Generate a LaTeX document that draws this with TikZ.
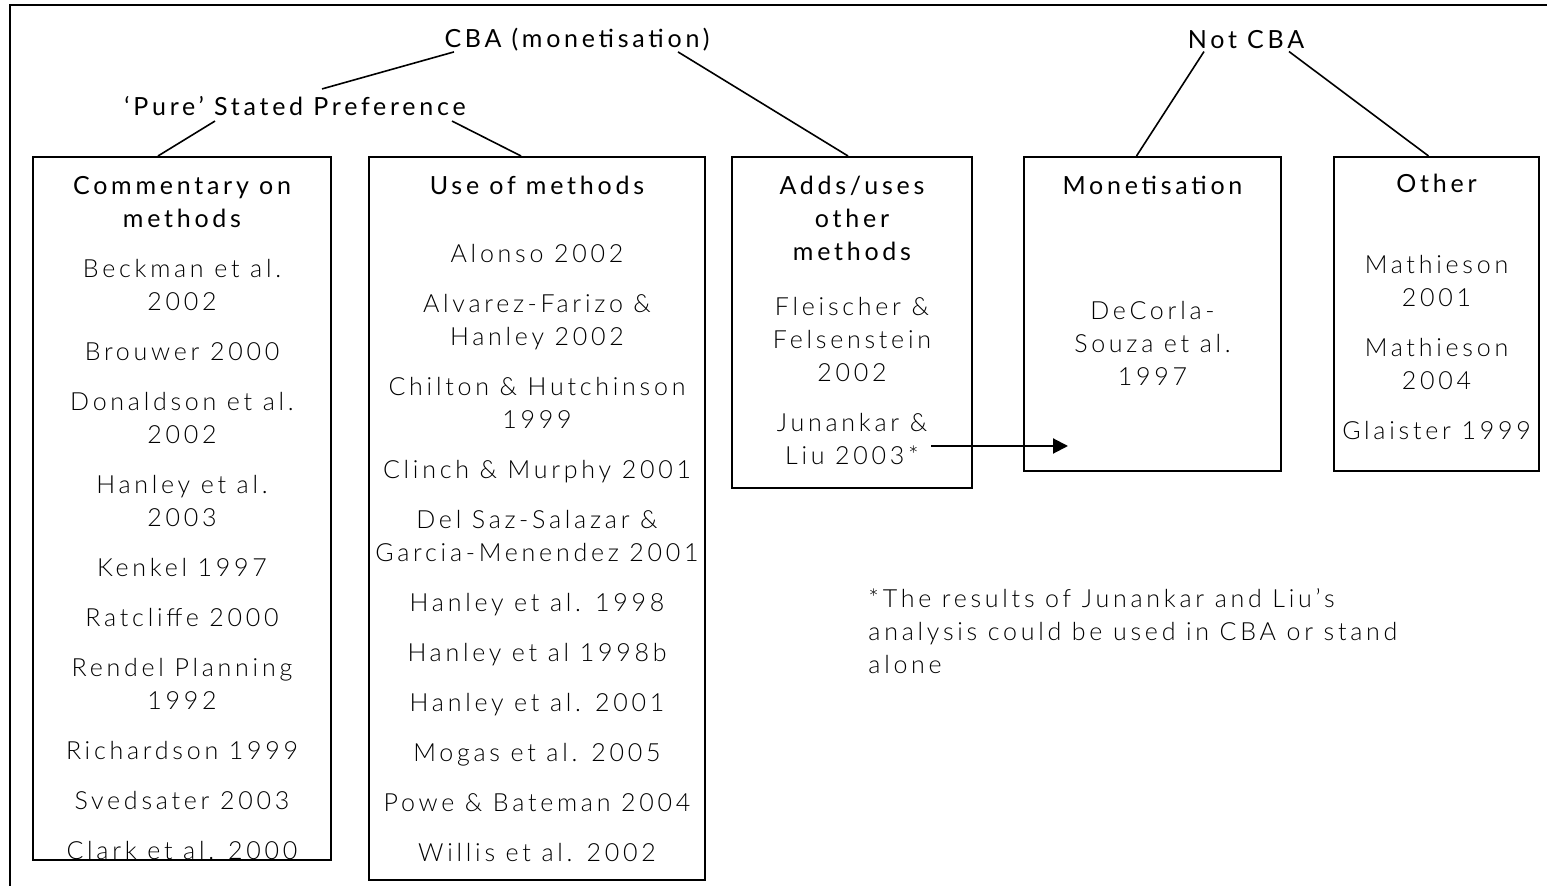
\documentclass[tikz,border=0pt]{standalone}
\usepackage{fontspec}
\setmainfont{Lato}[LetterSpace=15]
\newfontfamily\litefont{Lato Light}[LetterSpace=15]
\newfontfamily\hdfont{Lato}[LetterSpace=15]
\usetikzlibrary{arrows.meta,calc}

\tikzset{
  box/.style={draw, line width=1pt, inner sep=0pt},
  refs/.style={align=center, inner sep=0pt, font=\litefont\fontsize{12.5}{16.5}\selectfont},
  toplbl/.style={inner xsep=0pt, inner ysep=2.5pt, font=\hdfont\fontsize{12.5}{16.5}\selectfont},
  note/.style={align=left, inner sep=0pt, anchor=north west, font=\litefont\fontsize{12.5}{16.5}\selectfont},
  link/.style={line width=0.8pt},
  arr/.style={line width=1pt, -{Triangle[length=7.5pt,width=7.5pt]}}
}

\begin{document}
\begin{tikzpicture}[x=0.5pt, y=-0.5pt]
  \useasboundingbox (0,0) rectangle (1547,886);
  % frame
  \draw[line width=1pt] (10,886) -- (10,5) -- (1547,5);

  % top labels
  \node[toplbl] (cba) at (577,40) {CBA (monetisation)};
  \node[toplbl] (pure) at (295,106) {‘Pure’ Stated Preference};
  \node[toplbl] (notcba) at (1246,40) {Not CBA};

  % boxes
  \node[box, minimum width=149pt, minimum height=351.5pt] (comm) at (182,508.5) {};
  \node[box, minimum width=168pt, minimum height=361.5pt] (use) at (537,518.5) {};
  \node[box, minimum width=120pt, minimum height=165.5pt] (adds) at (852,322.5) {};
  \node[box, minimum width=128.5pt, minimum height=157pt] (mon) at (1152.5,314) {};
  \node[box, minimum width=102.5pt, minimum height=157pt] (oth) at (1436.5,314) {};

  % box contents
  \node[refs, anchor=north] (commtxt) at (182,176) {\hdfont Commentary on\\ \hdfont methods\\[8.5pt]
    Beckman et al.\\ 2002\\[8.5pt] Brouwer 2000\\[8.5pt] Donaldson et al.\\ 2002\\[8.5pt]
    Hanley et al.\\ 2003\\[8.5pt] Kenkel 1997\\[8.5pt] Ratcliffe 2000\\[8.5pt]
    Rendel Planning\\ 1992\\[8.5pt] Richardson 1999\\[8.5pt] Svedsater 2003\\[8.5pt]
    Clark et al. 2000};
  \node[refs, anchor=north] (usetxt) at (537,176) {\hdfont Use of methods\\[17.5pt]
    Alonso 2002\\[8.5pt] Alvarez-Farizo \&\\ Hanley 2002\\[8.5pt] Chilton \& Hutchinson\\ 1999\\[8.5pt]
    Clinch \& Murphy 2001\\[8.5pt] Del Saz-Salazar \&\\ Garcia-Menendez 2001\\[8.5pt]
    Hanley et al. 1998\\[8.5pt] Hanley et al 1998b\\[8.5pt] Hanley et al. 2001\\[8.5pt]
    Mogas et al. 2005\\[8.5pt] Powe \& Bateman 2004\\[8.5pt] Willis et al. 2002};
  \node[refs, anchor=north] (addstxt) at (852,176) {\hdfont Adds/uses\\ \hdfont other\\ \hdfont methods\\[11pt]
    Fleischer \&\\ Felsenstein\\ 2002\\[8.5pt] Junankar \&\\ Liu 2003*};
  \node[refs, anchor=north] (montxt) at (1152.5,176) {\hdfont Monetisation\\[46pt]
    DeCorla-\\ Souza et al.\\ 1997};
  \node[refs, anchor=north] (othtxt) at (1436.5,174) {\hdfont Other\\[24pt]
    Mathieson\\ 2001\\[8.5pt] Mathieson\\ 2004\\[8.5pt] Glaister 1999};

  \node[note] (fn) at (868,588) {*The results of Junankar and Liu’s\\ analysis could be used in CBA or stand\\ alone};

  % tree lines
  \draw[link] ($(cba.south)+(-123,-5)$) -- ($(pure.north)+(27,-2)$);
  \draw[link] ($(pure.south)+(-80,0)$) -- ($(comm.north)+(-24,0)$);
  \draw[link] ($(pure.south)+(157,0)$) -- ($(use.north)+(-16,0)$);
  \draw[link] ($(cba.south)+(101,-5)$) -- ($(adds.north)+(-4,0)$);
  \draw[link] ($(notcba.south)+(-42,-3)$) -- ($(mon.north)+(-16,0)$);
  \draw[link] ($(notcba.south)+(43,-3)$) -- ($(oth.north)+(-8,0)$);

  % arrow
  \coordinate (tip) at (1068,446);
  \draw[arr] (addstxt.east |- tip) -- (tip);
\end{tikzpicture}
\end{document}
